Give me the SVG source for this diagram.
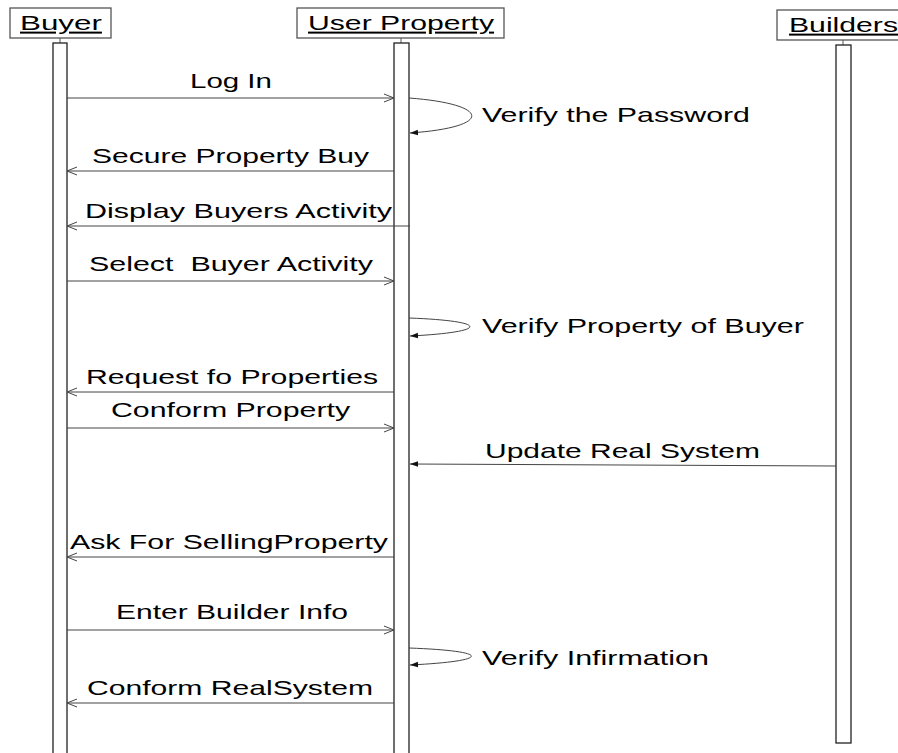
<svg xmlns="http://www.w3.org/2000/svg" width="898" height="753" viewBox="0 0 898 753">
<defs>
<style>
.box{fill:#fff;stroke:#555;stroke-width:1.3}
.bar{fill:#fff;stroke:#222;stroke-width:1.3}
.t{font-family:"Liberation Sans",Arial,sans-serif;font-size:20px;fill:#000}
.h{font-family:"Liberation Sans",Arial,sans-serif;font-size:20px;fill:#000;text-decoration:underline}
.m{fill:none;stroke:#444;stroke-width:1}
.o{marker-end:url(#open)}
.f{marker-end:url(#fill)}
</style>
<marker id="open" viewBox="0 0 10 10" refX="10" refY="5" markerWidth="10" markerHeight="10" markerUnits="userSpaceOnUse" orient="auto">
<path d="M0,1 L10,5 L0,9" fill="none" stroke="#444" stroke-width="1"/>
</marker>
<marker id="fill" viewBox="0 0 10 10" refX="10" refY="5" markerWidth="8" markerHeight="8" markerUnits="userSpaceOnUse" orient="auto">
<path d="M0,1.5 L10,5 L0,8.5 Z" fill="#111"/>
</marker>
</defs>
<rect width="898" height="753" fill="#fff"/>
<g id="buyer">
<rect class="box" x="10" y="8" width="101" height="30"/>
<line x1="60" y1="38" x2="60" y2="43" stroke="#555"/>
<text class="h" transform="translate(20,30) scale(1.44,1)" textLength="56.9" lengthAdjust="spacingAndGlyphs">Buyer</text>
<rect class="bar" x="53" y="43" width="14" height="720"/>
</g>
<g id="user-property">
<rect class="box" x="297" y="8" width="207" height="30"/>
<line x1="401" y1="38" x2="401" y2="43" stroke="#555"/>
<text class="h" transform="translate(308,30) scale(1.44,1)" textLength="129.2" lengthAdjust="spacingAndGlyphs">User Property</text>
<rect class="bar" x="394" y="43" width="15" height="720"/>
</g>
<g id="builders">
<rect class="box" x="777" y="10" width="125" height="30"/>
<line x1="843" y1="40" x2="843" y2="45" stroke="#555"/>
<text class="h" transform="translate(789,32) scale(1.44,1)" textLength="75.7" lengthAdjust="spacingAndGlyphs">Builders</text>
<rect class="bar" x="836" y="45" width="15" height="698"/>
</g>
<g id="connectors">
<line class="m o" x1="67" y1="98" x2="394" y2="98"/>
<path class="m f" d="M409,98 C490,104 495,127 410,133"/>
<line class="m o" x1="394" y1="171" x2="67" y2="171"/>
<line class="m o" x1="410" y1="226" x2="67" y2="226"/>
<line class="m o" x1="67" y1="281" x2="394" y2="281"/>
<path class="m f" d="M409,318 C490,321 490,332 410,336"/>
<line class="m o" x1="394" y1="392" x2="67" y2="392"/>
<line class="m o" x1="67" y1="428" x2="394" y2="428"/>
<line class="m f" x1="836" y1="466" x2="410" y2="464"/>
<line class="m o" x1="394" y1="557" x2="67" y2="557"/>
<line class="m o" x1="67" y1="630" x2="394" y2="630"/>
<path class="m f" d="M409,648 C492,651 492,661 410,665"/>
<line class="m o" x1="394" y1="703" x2="67" y2="703"/>
</g>
<g id="labels">
<text class="t" transform="translate(190,88) scale(1.44,1)" textLength="56.9" lengthAdjust="spacingAndGlyphs">Log In</text>
<text class="t" transform="translate(482,122) scale(1.44,1)" textLength="186.1" lengthAdjust="spacingAndGlyphs">Verify the Password</text>
<text class="t" transform="translate(92,163) scale(1.44,1)" textLength="192.4" lengthAdjust="spacingAndGlyphs">Secure Property Buy</text>
<text class="t" transform="translate(85,218) scale(1.44,1)" textLength="213.2" lengthAdjust="spacingAndGlyphs">Display Buyers Activity</text>
<text class="t" transform="translate(89,271) scale(1.44,1)" textLength="197.2" lengthAdjust="spacingAndGlyphs" xml:space="preserve">Select  Buyer Activity</text>
<text class="t" transform="translate(482,333) scale(1.44,1)" textLength="223.6" lengthAdjust="spacingAndGlyphs">Verify Property of Buyer</text>
<text class="t" transform="translate(86,384) scale(1.44,1)" textLength="202.8" lengthAdjust="spacingAndGlyphs">Request fo Properties</text>
<text class="t" transform="translate(111,417) scale(1.44,1)" textLength="166" lengthAdjust="spacingAndGlyphs">Conform Property</text>
<text class="t" transform="translate(485,458) scale(1.44,1)" textLength="191" lengthAdjust="spacingAndGlyphs">Update Real System</text>
<text class="t" transform="translate(70,549) scale(1.44,1)" textLength="220.8" lengthAdjust="spacingAndGlyphs">Ask For SellingProperty</text>
<text class="t" transform="translate(116,619) scale(1.44,1)" textLength="161.1" lengthAdjust="spacingAndGlyphs">Enter Builder Info</text>
<text class="t" transform="translate(482,665) scale(1.44,1)" textLength="157.6" lengthAdjust="spacingAndGlyphs">Verify Infirmation</text>
<text class="t" transform="translate(87,695) scale(1.44,1)" textLength="198.6" lengthAdjust="spacingAndGlyphs">Conform RealSystem</text>
</g>
</svg>
